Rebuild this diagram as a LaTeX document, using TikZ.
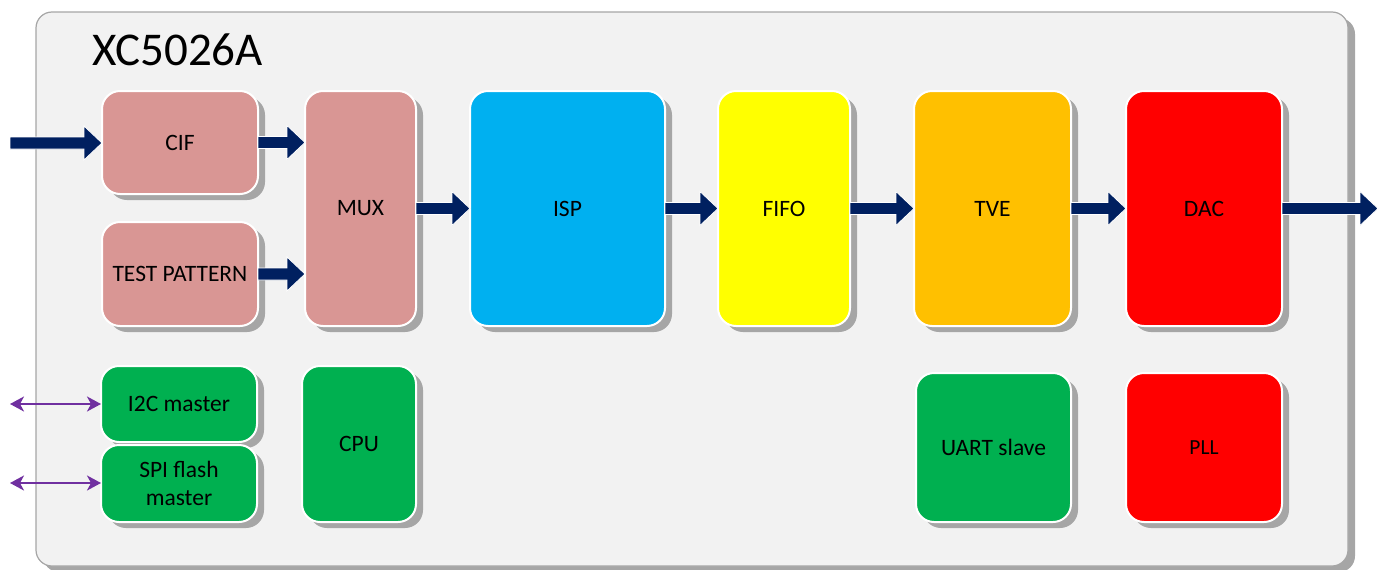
\documentclass[tikz,border=0pt]{standalone}
\usepackage{fontspec}
\setmainfont{Carlito}
\usetikzlibrary{shadows,arrows.meta,calc}
\definecolor{bggray}{HTML}{F2F2F2}
\definecolor{framegray}{HTML}{A6A6A6}
\definecolor{shgray}{HTML}{A6A6A6}
\definecolor{pinkblk}{HTML}{D99694}
\definecolor{ispblue}{HTML}{00B0F0}
\definecolor{fifoyel}{HTML}{FFFF00}
\definecolor{tveor}{HTML}{FFC000}
\definecolor{dacred}{HTML}{FF0000}
\definecolor{grnblk}{HTML}{00B050}
\definecolor{navyarr}{HTML}{002060}
\definecolor{purparr}{HTML}{7030A0}
\newcommand\blockarrow[2]{%
  \filldraw[fill=navyarr, draw=white, line width=0.8pt]
  let \p1=(#1), \p2=(#2) in
  (\x1,\y1+6pt) -- (\x2-18pt,\y1+6pt) -- (\x2-18pt,\y1+17pt) -- (\x2,\y1) --
  (\x2-18pt,\y1-17pt) -- (\x2-18pt,\y1-6pt) -- (\x1,\y1-6pt) -- cycle;}
\tikzset{
  blk/.style={draw=white, line width=2pt, rounded corners=18pt, inner sep=0pt,
    outer sep=0pt, align=center, font=\fontsize{23.5}{28}\selectfont,
    drop shadow={shadow xshift=7pt, shadow yshift=-6pt, fill=shgray, opacity=1}},
  biarrow/.style={draw=purparr, line width=2pt,
    {Stealth[length=14pt,width=15pt,inset=4pt]}-{Stealth[length=14pt,width=15pt,inset=4pt]}}
}
\begin{document}
\begin{tikzpicture}[x=1pt,y=-1pt]
\useasboundingbox (0,0) rectangle (1384,570);
% outer frame
\node[draw=framegray, fill=bggray, line width=1.2pt, rounded corners=16pt,
  minimum width=1312, minimum height=554, inner sep=0pt,
  drop shadow={shadow xshift=7pt, shadow yshift=-6pt, fill=shgray, opacity=1}]
  (frame) at (692,289) {};
\node[anchor=base west, inner sep=0pt, font=\fontsize{47}{56}\selectfont] (title) at (92,65) {XC5026A};
% blocks
\node[blk, fill=pinkblk, minimum width=156, minimum height=103] (cif) at (180,142.5) {CIF};
\node[blk, fill=pinkblk, minimum width=156, minimum height=104] (tp) at (180,274) {TEST PATTERN};
\node[blk, fill=pinkblk, minimum width=111, minimum height=235] (mux) at (360.5,208.5) {MUX};
\node[blk, fill=ispblue, minimum width=195, minimum height=235] (isp) at (567.5,208.5) {ISP};
\node[blk, fill=fifoyel, minimum width=132, minimum height=235] (fifo) at (784,208.5) {FIFO};
\node[blk, fill=tveor, minimum width=157, minimum height=235] (tve) at (992.5,208.5) {TVE};
\node[blk, fill=dacred, minimum width=156, minimum height=235] (dac) at (1204,208.5) {DAC};
\node[blk, fill=grnblk, minimum width=156, minimum height=76] (i2c) at (179,404) {I2C master};
\node[blk, fill=grnblk, minimum width=156, minimum height=77] (spi) at (179,483.5) {SPI flash\\master};
\node[blk, fill=grnblk, minimum width=114, minimum height=156] (cpu) at (359,444) {CPU};
\node[blk, fill=grnblk, minimum width=155, minimum height=149] (uart) at (993.5,447.5) {UART slave};
\node[blk, fill=dacred, minimum width=156, minimum height=149, font=\fontsize{21.5}{24}\selectfont] (pll) at (1204,447.5) {PLL};
% free ends
\coordinate (in1) at (10,143);
\coordinate (out1) at (1378,208.5);
\coordinate (p1) at (10,404);
\coordinate (p2) at (10,483);
% block arrows
\blockarrow{in1}{cif.west}
\blockarrow{cif.east}{mux.west |- cif.east}
\blockarrow{tp.east}{mux.west |- tp.east}
\blockarrow{mux.east}{isp.west}
\blockarrow{isp.east}{fifo.west}
\blockarrow{fifo.east}{tve.west}
\blockarrow{tve.east}{dac.west}
\blockarrow{dac.east}{out1}
% bidirectional arrows
\draw[biarrow] (p1) -- (i2c.west);
\draw[biarrow] (p2) -- (spi.west |- p2);
\end{tikzpicture}
\end{document}
